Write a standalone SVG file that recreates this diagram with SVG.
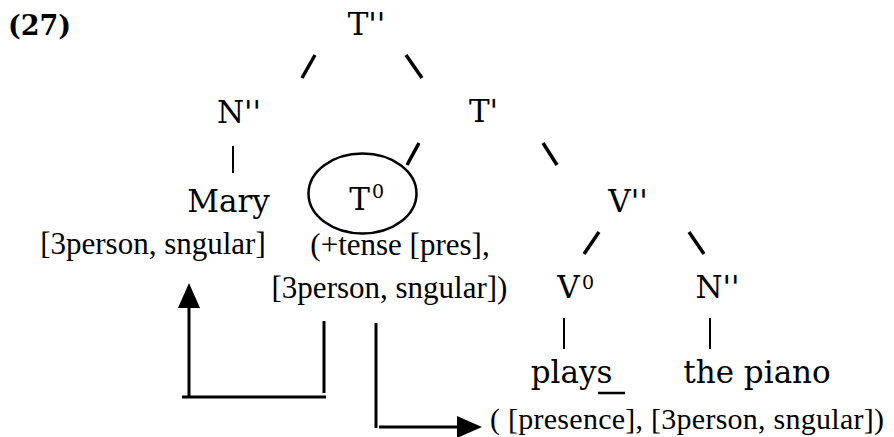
<svg xmlns="http://www.w3.org/2000/svg" width="894" height="437" viewBox="0 0 894 437">
<style>
.big{font-family:"DejaVu Serif","Liberation Serif",serif;font-size:31px;fill:#000;text-anchor:middle}
.sup{font-family:"DejaVu Serif","Liberation Serif",serif;font-size:19px;fill:#000}
.sm{font-family:"Liberation Serif","Times New Roman",serif;font-size:31px;fill:#000;text-anchor:middle}
.num{font-family:"DejaVu Serif","Liberation Serif",serif;font-size:27px;font-weight:bold;fill:#000}
.sl{stroke:#000;stroke-width:3.5;fill:none}
.bar{stroke:#000;stroke-width:2;fill:none}
.ar{stroke:#000;stroke-width:3;fill:none}
</style>
<defs>
<marker id="ah" markerUnits="userSpaceOnUse" markerWidth="26" markerHeight="24" refX="0" refY="11" orient="auto">
<path d="M0,0 L25,11 L0,22 Z" fill="#000"/>
</marker>
</defs>
<rect width="894" height="437" fill="#fff"/>
<text class="num" x="8" y="35">(27)</text>
<g id="connectors">
<line class="sl" x1="302" y1="78" x2="315" y2="55"/>
<line class="sl" x1="406" y1="55" x2="422" y2="78"/>
<line class="sl" x1="407" y1="165" x2="419" y2="143"/>
<line class="sl" x1="543" y1="143" x2="557" y2="165"/>
<line class="bar" x1="233" y1="146" x2="233" y2="173"/>
<line class="sl" x1="584" y1="254" x2="599" y2="232"/>
<line class="sl" x1="689" y1="232" x2="704" y2="254"/>
<line class="bar" x1="564" y1="318" x2="564" y2="349"/>
<line class="bar" x1="710" y1="318" x2="710" y2="349"/>
<line class="ar" x1="324" y1="321" x2="324" y2="393"/>
<line class="ar" x1="182" y1="397" x2="326" y2="397"/>
<line class="ar" x1="189" y1="397" x2="189" y2="308" marker-end="url(#ah)"/>
<line class="ar" x1="376" y1="323" x2="376" y2="428"/>
<line class="ar" x1="379" y1="427" x2="457" y2="427" marker-end="url(#ah)"/>
</g>
<g id="n-T2"><text class="big" x="366.5" y="35">T''</text></g>
<g id="n-N2"><text class="big" x="239" y="123">N''</text></g>
<g id="n-T1"><text class="big" x="483.5" y="122">T'</text></g>
<g id="n-Mary"><text class="big" x="228.5" y="212">Mary</text>
<text class="sm" x="153" y="254">[3person, sngular]</text></g>
<g id="n-T0"><ellipse cx="362.5" cy="193.5" rx="54" ry="40" fill="none" stroke="#000" stroke-width="2.5"/>
<text class="big" x="359.5" y="210">T</text><text class="sup" x="372" y="198">0</text>
<text class="sm" x="400" y="255">(+tense [pres],</text>
<text class="sm" x="389.5" y="298">[3person, sngular])</text></g>
<g id="n-V2"><text class="big" x="628" y="212">V''</text></g>
<g id="n-V0"><text class="big" x="568.5" y="298">V</text><text class="sup" x="582" y="289">0</text></g>
<g id="n-N2b"><text class="big" x="717.5" y="298">N''</text></g>
<g id="n-plays"><text class="big" x="571.5" y="383">plays</text>
<line x1="598" y1="393" x2="625" y2="393" stroke="#000" stroke-width="2.5"/></g>
<g id="n-piano"><text class="big" x="757" y="383">the piano</text></g>
<g id="n-feat"><text class="sm" x="490" y="429" textLength="394" lengthAdjust="spacing" style="text-anchor:start;font-size:30px">( [presence], [3person, sngular])</text></g>
</svg>
